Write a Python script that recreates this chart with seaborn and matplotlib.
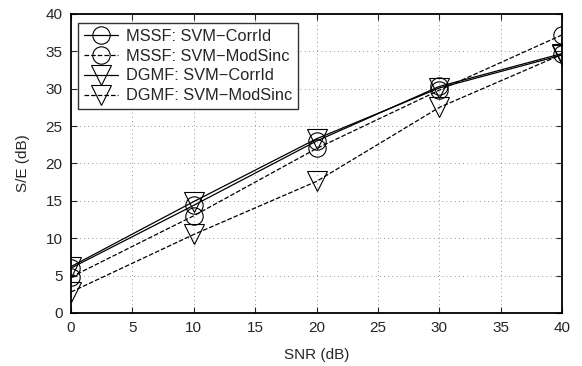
import numpy as np
import pandas as pd
import seaborn as sns
import matplotlib.pyplot as plt

snr = [0, 10, 20, 30, 40]
mssf_corrid = [6.0, 14.4, 23.0, 30.3, 34.7]
mssf_modsinc = [4.8, 13.0, 22.0, 29.8, 37.2]
dgmf_corrid = [6.2, 14.9, 23.3, 30.1, 34.5]
dgmf_modsinc = [2.8, 10.5, 17.6, 27.5, 34.6]

# name, values, marker, linestyle, marker size
SERIES = [
    ("MSSF: SVM\u2212CorrId", mssf_corrid, "o", "-", 12.5),
    ("MSSF: SVM\u2212ModSinc", mssf_modsinc, "o", "--", 12.5),
    ("DGMF: SVM\u2212CorrId", dgmf_corrid, "v", "-", 14),
    ("DGMF: SVM\u2212ModSinc", dgmf_modsinc, "v", "--", 14),
]

sns.set_style("ticks")
plt.rcParams["font.family"] = ["Liberation Sans", "DejaVu Sans"]
plt.rcParams["font.size"] = 11

fig = plt.figure(figsize=(5.82, 3.66), dpi=100)
ax = fig.add_axes([0.122, 0.145, 0.844, 0.817])

for name, vals, mk, ls, ms in SERIES:
    df = pd.DataFrame({"snr": snr, "se": vals})
    sns.lineplot(data=df, x="snr", y="se", ax=ax, color="black", linewidth=0.9,
                 linestyle=ls, marker=mk, markersize=ms, markerfacecolor="none",
                 markeredgecolor="black", markeredgewidth=0.8, label=name)

ax.set_xlim(0, 40)
ax.set_ylim(0, 40)
ax.set_xticks(range(0, 41, 5))
ax.set_yticks(range(0, 41, 5))
ax.grid(True, color="#777777", linestyle=(0, (1, 4)), linewidth=0.6)
ax.tick_params(direction="in", top=True, right=True, length=4, width=0.8,
               labelsize=11, pad=6)
for s in ax.spines.values():
    s.set_linewidth(1.3)
    s.set_color("black")
ax.set_xlabel("SNR (dB)", fontsize=11, labelpad=9)
ax.set_ylabel("S/E (dB)", fontsize=11, labelpad=11)

leg = ax.legend(loc="upper left", bbox_to_anchor=(7 / 491, 1 - 9 / 299), borderaxespad=0,
                numpoints=1, fontsize=11.8, frameon=True, fancybox=False,
                edgecolor="black", handlelength=2.1, labelspacing=0.3,
                handletextpad=0.45, borderpad=0.35)
leg.get_frame().set_linewidth(1.0)

fig.savefig("out.png", dpi=100)
